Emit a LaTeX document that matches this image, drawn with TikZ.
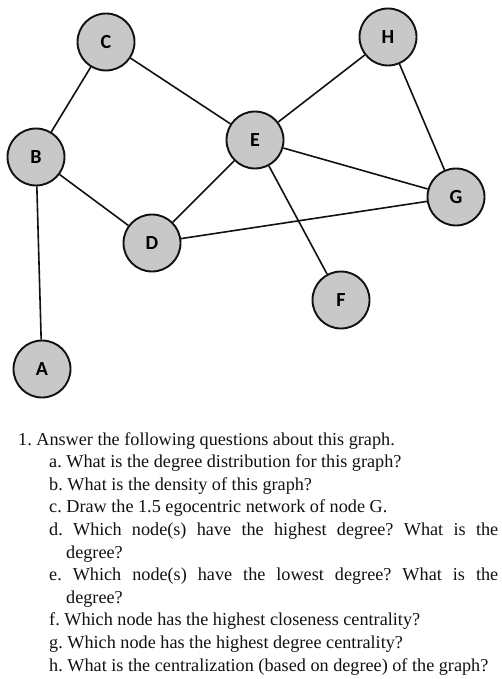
\documentclass[tikz,border=0pt]{standalone}
\usepackage{fontspec}
\setmainfont{Liberation Serif}
\newfontfamily\vxfont{Carlito}
\usetikzlibrary{positioning}
\definecolor{vxfill}{HTML}{C8C8C8}
\definecolor{vxink}{HTML}{111111}
\tikzset{
  vx/.style={circle, draw=vxink, line width=1.9pt, fill=vxfill, minimum size=57pt, inner sep=0pt, font=\vxfont\bfseries\fontsize{20}{20}\selectfont},
  edge/.style={draw=vxink, line width=1.6pt},
  qline/.style={anchor=base west, inner sep=0pt, font=\frenchspacing\fontsize{18.2}{22}\selectfont, text=vxink},
}

\begin{document}
\begin{tikzpicture}[x=1pt, y=-1pt]
  \useasboundingbox (0,0) rectangle (502,679);
  % the graph
  \node[vx] (C) at (106,42) {C};
  \node[vx] (H) at (388,37) {H};
  \node[vx] (B) at (36,157) {B};
  \node[vx] (E) at (255,140) {E};
  \node[vx] (G) at (456,197) {G};
  \node[vx] (D) at (152,243) {D};
  \node[vx] (F) at (341,300) {F};
  \node[vx] (A) at (42,369) {A};
  \foreach \a/\b in {C/B, C/E, B/D, B/A, E/H, E/D, E/G, E/F, H/G, D/G}
    \path[edge] (\a) -- (\b);
  % questions
  \node[qline] (q0) at (18,445) {1. Answer the following questions about this graph.};
  \node[qline] (qa) at (49,467.6) {a. What is the degree distribution for this graph?};
  \node[qline] (qb) at (49,490.2) {b. What is the density of this graph?};
  \node[qline] (qc) at (49,512.8) {c. Draw the 1.5 egocentric network of node G.};
  \node[qline] (qd) at (49,535.4) {\makebox[449pt][s]{d. Which node(s) have the highest degree? What is the}};
  \node[qline] (qd2) at (66,558) {degree?};
  \node[qline] (qe) at (49,580.6) {\makebox[449pt][s]{e. Which node(s) have the lowest degree? What is the}};
  \node[qline] (qe2) at (66,603.2) {degree?};
  \node[qline] (qf) at (49,625.8) {f. Which node has the highest closeness centrality?};
  \node[qline] (qg) at (49,648.4) {g. Which node has the highest degree centrality?};
  \node[qline] (qh) at (49,671) {h. What is the centralization (based on degree) of the graph?};
\end{tikzpicture}
\end{document}
